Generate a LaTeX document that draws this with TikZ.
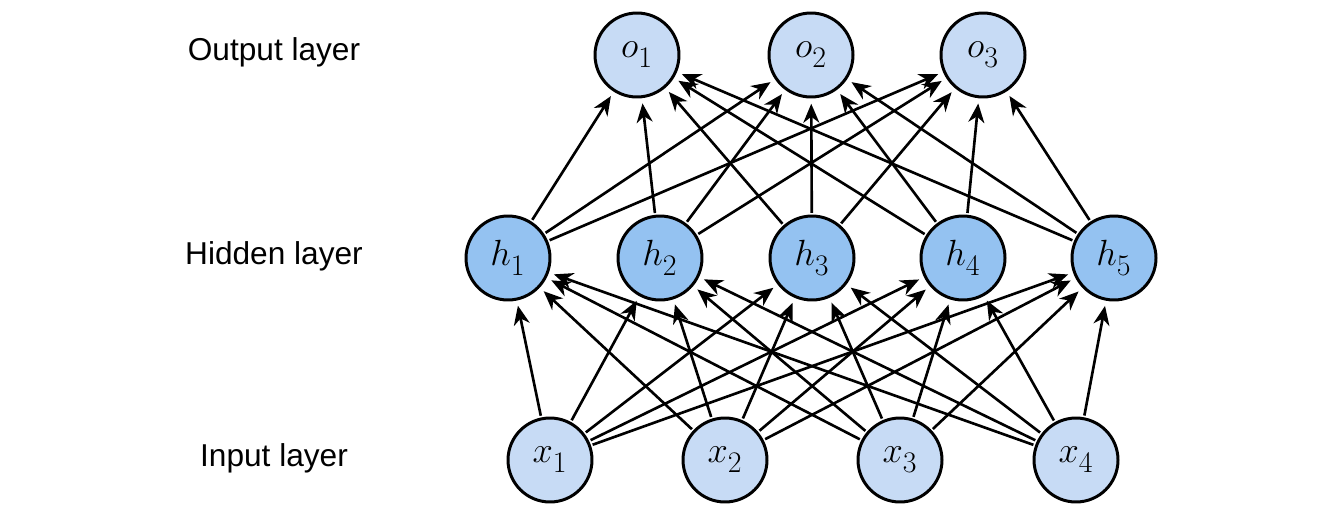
\documentclass[tikz,border=0pt]{standalone}
\usepackage{fontspec}
\setsansfont{Liberation Sans}
\usepackage{tikz}
\usetikzlibrary{arrows.meta}

\definecolor{lightunit}{RGB}{199,219,245}
\definecolor{hidunit}{RGB}{148,194,241}

% variable with a large subscript
\newcommand{\unitvar}[2]{$#1_{\raisebox{-0.12em}{\fontsize{17}{20}\selectfont #2}}$}

\begin{document}
\begin{tikzpicture}[
  x=0.02cm, y=-0.02cm,
  unit/.style={circle, draw, line width=1.7pt, minimum size=1.68cm, inner sep=0pt, fill=lightunit, font=\fontsize{22}{24}\selectfont},
  hunit/.style={unit, fill=hidunit},
  lbl/.style={font=\sffamily\fontsize{18}{22}\selectfont},
  arr/.style={-{Stealth[length=3.8mm, width=3.2mm, inset=1.2mm]}, line width=1.5pt, shorten >=3pt, shorten <=1pt}
]
  \useasboundingbox (0,0) rectangle (1334,528);

  % Layer names
  \node[lbl] (lout) at (274,52) {Output layer};
  \node[lbl] (lhid) at (274,256) {Hidden layer};
  \node[lbl] (lin) at (274,458) {Input layer};

  % Units
  \foreach \i/\x in {1/637, 2/811, 3/983}
    \node[unit] (o\i) at (\x,55) {\unitvar{o}{\i}};
  \foreach \i/\x in {1/508, 2/660, 3/812, 4/963, 5/1114}
    \node[hunit] (h\i) at (\x,258) {\unitvar{h}{\i}};
  \foreach \i/\x in {1/550, 2/725, 3/900, 4/1076}
    \node[unit] (x\i) at (\x,460) {\unitvar{x}{\i}};

  % Connections
  \foreach \i in {1,...,4}
    \foreach \j in {1,...,5}
      \draw[arr] (x\i) -- (h\j);
  \foreach \j in {1,...,5}
    \foreach \k in {1,...,3}
      \draw[arr] (h\j) -- (o\k);
\end{tikzpicture}
\end{document}
